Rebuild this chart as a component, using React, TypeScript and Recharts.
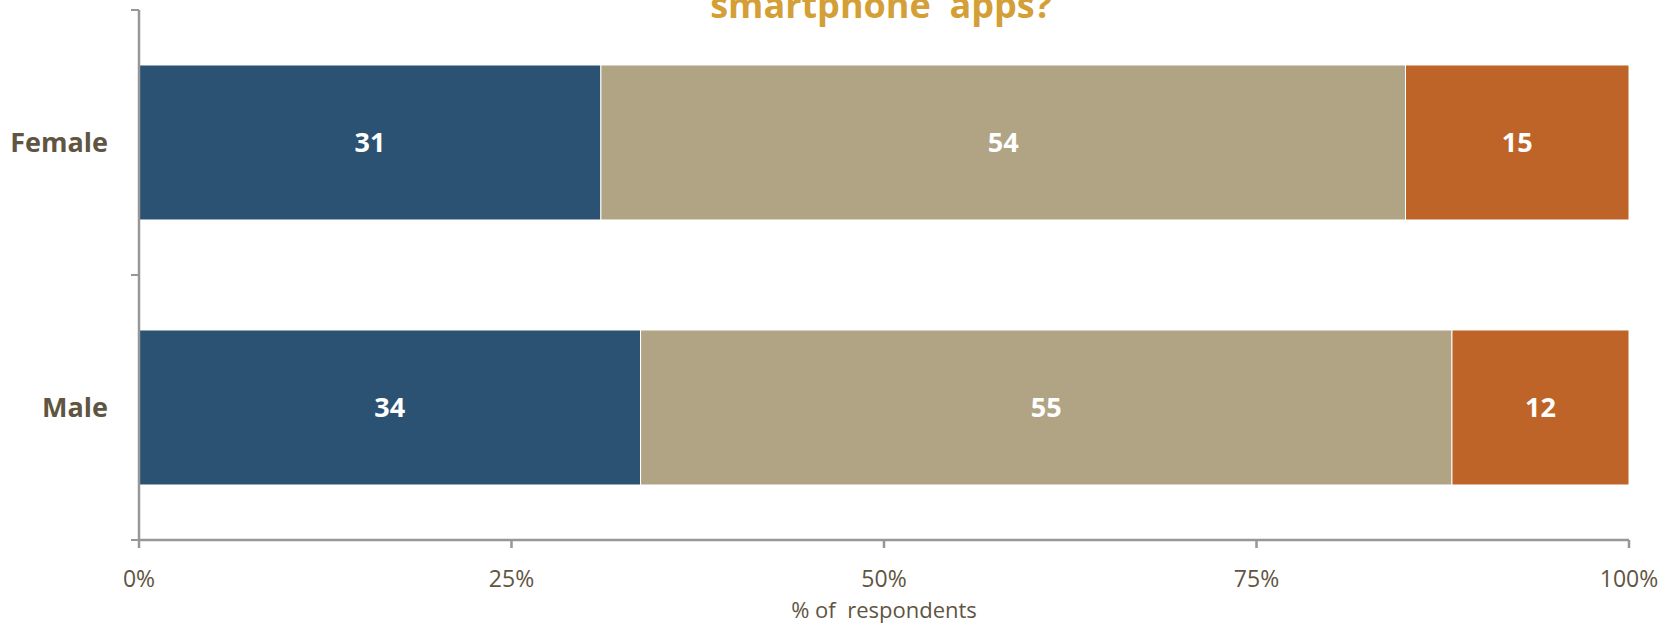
import React from 'react';
import { BarChart, Bar, XAxis, YAxis, LabelList, Label } from 'recharts';

const categories = ['Female', 'Male'];
const seriesA = [31, 34];
const seriesB = [54, 55];
const seriesC = [15, 12];
const xTicks = [0, 0.25, 0.5, 0.75, 1];
const titleText = 'smartphone  apps?';
const xAxisTitle = '% of  respondents';

const data = categories.map((name, i) => ({
  name,
  a: seriesA[i],
  b: seriesB[i],
  c: seriesC[i],
}));

const FONT = '"Open Sans", sans-serif';
const TEXT = '#5F5542';
const AXIS = '#979797';

const CategoryTick = (props: any) => {
  const { x, y, payload, index, visibleTicksCount } = props;
  const half = payload && payload.offset ? payload.offset : 132.5;
  const axisX = x + 31;
  const isLast = index === visibleTicksCount - 1;
  return (
    <g>
      <line x1={axisX - 8} x2={axisX} y1={y - half} y2={y - half} stroke={AXIS} strokeWidth={2} />
      {isLast && <line x1={axisX - 8} x2={axisX} y1={y + half} y2={y + half} stroke={AXIS} strokeWidth={2} />}
      <text x={x} y={y} dy="0.355em" textAnchor="end" fill={TEXT} fontSize={27} fontWeight={700} fontFamily={FONT}>
        {payload.value}
      </text>
    </g>
  );
};

const AxisTitle = (props: any) => {
  const vb = props.viewBox || {};
  const cx = vb.x + vb.width / 2;
  const by = vb.y + vb.height - 5;
  return (
    <text x={cx} y={by} textAnchor="middle" fill={TEXT} fontSize={22} fontFamily={FONT} style={{ whiteSpace: 'pre' }}>
      {xAxisTitle}
    </text>
  );
};

export default function App() {
  return (
    <div style={{ position: 'absolute', left: 0, top: 0, width: 1666, height: 623, background: '#fff' }}>
      <BarChart
        width={1666}
        height={623}
        data={data}
        layout="vertical"
        stackOffset="expand"
        barCategoryGap="20.75%"
        margin={{ top: 10, right: 37, bottom: 0, left: 19 }}
        style={{ fontFamily: FONT }}
      >
        <XAxis
          type="number"
          domain={[0, 1]}
          ticks={xTicks}
          tickFormatter={(v: number) => `${Math.round(v * 100)}%`}
          height={83}
          axisLine={{ stroke: AXIS, strokeWidth: 2.5 }}
          tickLine={{ stroke: AXIS, strokeWidth: 2.5 }}
          tickSize={8}
          tickMargin={23}
          tick={{ fill: TEXT, fontSize: 23, fontFamily: FONT }}
          interval={0}
        >
          <Label content={<AxisTitle />} />
        </XAxis>
        <YAxis
          type="category"
          dataKey="name"
          width={120}
          axisLine={{ stroke: AXIS, strokeWidth: 2.5 }}
          tickLine={false}
          tickSize={8}
          tickMargin={23}
          interval={0}
          tick={<CategoryTick />}
        />
        <Bar dataKey="a" stackId="s" fill="#2B5272" stroke="#ffffff" strokeWidth={1} isAnimationActive={false}>
          <LabelList dataKey="a" position="center" fill="#ffffff" fontSize={27} fontWeight={700} fontFamily={FONT} />
        </Bar>
        <Bar dataKey="b" stackId="s" fill="#B0A484" stroke="#ffffff" strokeWidth={1} isAnimationActive={false}>
          <LabelList dataKey="b" position="center" fill="#ffffff" fontSize={27} fontWeight={700} fontFamily={FONT} />
        </Bar>
        <Bar dataKey="c" stackId="s" fill="#BE6428" stroke="#ffffff" strokeWidth={1} isAnimationActive={false}>
          <LabelList dataKey="c" position="center" fill="#ffffff" fontSize={27} fontWeight={700} fontFamily={FONT} />
        </Bar>
      </BarChart>
      <svg width={1666} height={40} style={{ position: 'absolute', left: 0, top: 0, pointerEvents: 'none' }}>
        <text x={881} y={18} textAnchor="middle" fill="#D39F36" fontSize={36} fontWeight={700} fontFamily={FONT} style={{ whiteSpace: 'pre' }}>
          {titleText}
        </text>
      </svg>
    </div>
  );
}
